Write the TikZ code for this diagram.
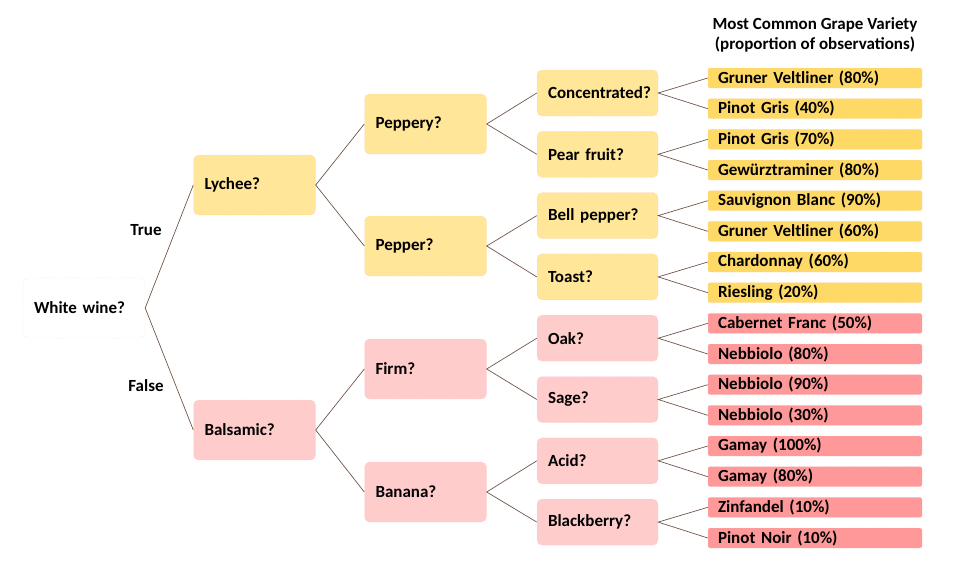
\documentclass[tikz,border=0pt]{standalone}
\usepackage{fontspec}
\setmainfont{Carlito}
\definecolor{qyellow}{RGB}{255,230,153}
\definecolor{leafyellow}{RGB}{255,217,102}
\definecolor{qpink}{RGB}{255,204,204}
\definecolor{leafred}{RGB}{255,153,153}
\definecolor{edgebrown}{RGB}{112,86,72}
\definecolor{rim}{RGB}{248,196,196}
\tikzset{
    qbox/.style={draw=rim, densely dotted, rounded corners=5pt, minimum width=122, minimum height=60, text width=100, align=left, inner xsep=11},
    midbox/.style={qbox, minimum width=121, minimum height=46, text width=99},
    leaf/.style={draw=rim, densely dotted, rounded corners=2pt, minimum width=214, minimum height=20, text width=194, inner xsep=10, inner ysep=0, align=left},
    edge/.style={edgebrown, line width=0.7pt}
}
\begin{document}
\begin{tikzpicture}[x=1pt, y=-1pt, font=\fontsize{17}{20}\selectfont\bfseries]
        \useasboundingbox (0,0) rectangle (955,571);
        % root and first split
        \node[qbox, fill=white] (white) at (84,308) {White wine?};
        \node[qbox, fill=qyellow] (lychee) at (254.5,185) {Lychee?};
        \node[qbox, fill=qpink] (balsamic) at (254.5,430) {Balsamic?};
        \node (true) at (146,230) {True};
        \node (false) at (146,386) {False};
        % second split
        \node[qbox, fill=qyellow] (peppery) at (425.5,124) {Peppery?};
        \node[qbox, fill=qyellow] (pepper) at (425.5,246) {Pepper?};
        \node[qbox, fill=qpink] (firm) at (425.5,369) {Firm?};
        \node[qbox, fill=qpink] (banana) at (425.5,492) {Banana?};
        % third split
        \node[midbox, fill=qyellow] (concentrated) at (597.5,93) {Concentrated?};
        \node[midbox, fill=qyellow] (pear) at (597.5,154.3) {Pear fruit?};
        \node[midbox, fill=qyellow] (bell) at (597.5,215.6) {Bell pepper?};
        \node[midbox, fill=qyellow] (toast) at (597.5,276.9) {Toast?};
        \node[midbox, fill=qpink] (oak) at (597.5,338.2) {Oak?};
        \node[midbox, fill=qpink] (sage) at (597.5,399.5) {Sage?};
        \node[midbox, fill=qpink] (acid) at (597.5,460.8) {Acid?};
        \node[midbox, fill=qpink] (blackberry) at (597.5,522.1) {Blackberry?};
        % grape varieties
        \node[align=center] (title) at (815,35) {Most Common Grape Variety\\(proportion of observations)};
        \node[leaf, fill=leafyellow] (gv1) at (815,78) {Gruner Veltliner (80\%)};
        \node[leaf, fill=leafyellow] (pg1) at (815,108.7) {Pinot Gris (40\%)};
        \node[leaf, fill=leafyellow] (pg2) at (815,139.3) {Pinot Gris (70\%)};
        \node[leaf, fill=leafyellow] (gw) at (815,170) {Gewürztraminer (80\%)};
        \node[leaf, fill=leafyellow] (sb) at (815,200.7) {Sauvignon Blanc (90\%)};
        \node[leaf, fill=leafyellow] (gv2) at (815,231.3) {Gruner Veltliner (60\%)};
        \node[leaf, fill=leafyellow] (ch) at (815,262) {Chardonnay (60\%)};
        \node[leaf, fill=leafyellow] (ri) at (815,292.7) {Riesling (20\%)};
        \node[leaf, fill=leafred] (cf) at (815,323.3) {Cabernet Franc (50\%)};
        \node[leaf, fill=leafred] (nb1) at (815,354) {Nebbiolo (80\%)};
        \node[leaf, fill=leafred] (nb2) at (815,384.7) {Nebbiolo (90\%)};
        \node[leaf, fill=leafred] (nb3) at (815,415.3) {Nebbiolo (30\%)};
        \node[leaf, fill=leafred] (ga1) at (815,446) {Gamay (100\%)};
        \node[leaf, fill=leafred] (ga2) at (815,476.7) {Gamay (80\%)};
        \node[leaf, fill=leafred] (zi) at (815,507.3) {Zinfandel (10\%)};
        \node[leaf, fill=leafred] (pn) at (815,538) {Pinot Noir (10\%)};
        % branches
        \draw[edge] (lychee.west) -- (white.east) -- (balsamic.west);
        \draw[edge] (peppery.west) -- (lychee.east) -- (pepper.west);
        \draw[edge] (firm.west) -- (balsamic.east) -- (banana.west);
        \draw[edge] (concentrated.west) -- (peppery.east) -- (pear.west);
        \draw[edge] (bell.west) -- (pepper.east) -- (toast.west);
        \draw[edge] (oak.west) -- (firm.east) -- (sage.west);
        \draw[edge] (acid.west) -- (banana.east) -- (blackberry.west);
        \draw[edge] (gv1.west) -- (concentrated.east) -- (pg1.west);
        \draw[edge] (pg2.west) -- (pear.east) -- (gw.west);
        \draw[edge] (sb.west) -- (bell.east) -- (gv2.west);
        \draw[edge] (ch.west) -- (toast.east) -- (ri.west);
        \draw[edge] (cf.west) -- (oak.east) -- (nb1.west);
        \draw[edge] (nb2.west) -- (sage.east) -- (nb3.west);
        \draw[edge] (ga1.west) -- (acid.east) -- (ga2.west);
        \draw[edge] (zi.west) -- (blackberry.east) -- (pn.west);
    \end{tikzpicture}
\end{document}
